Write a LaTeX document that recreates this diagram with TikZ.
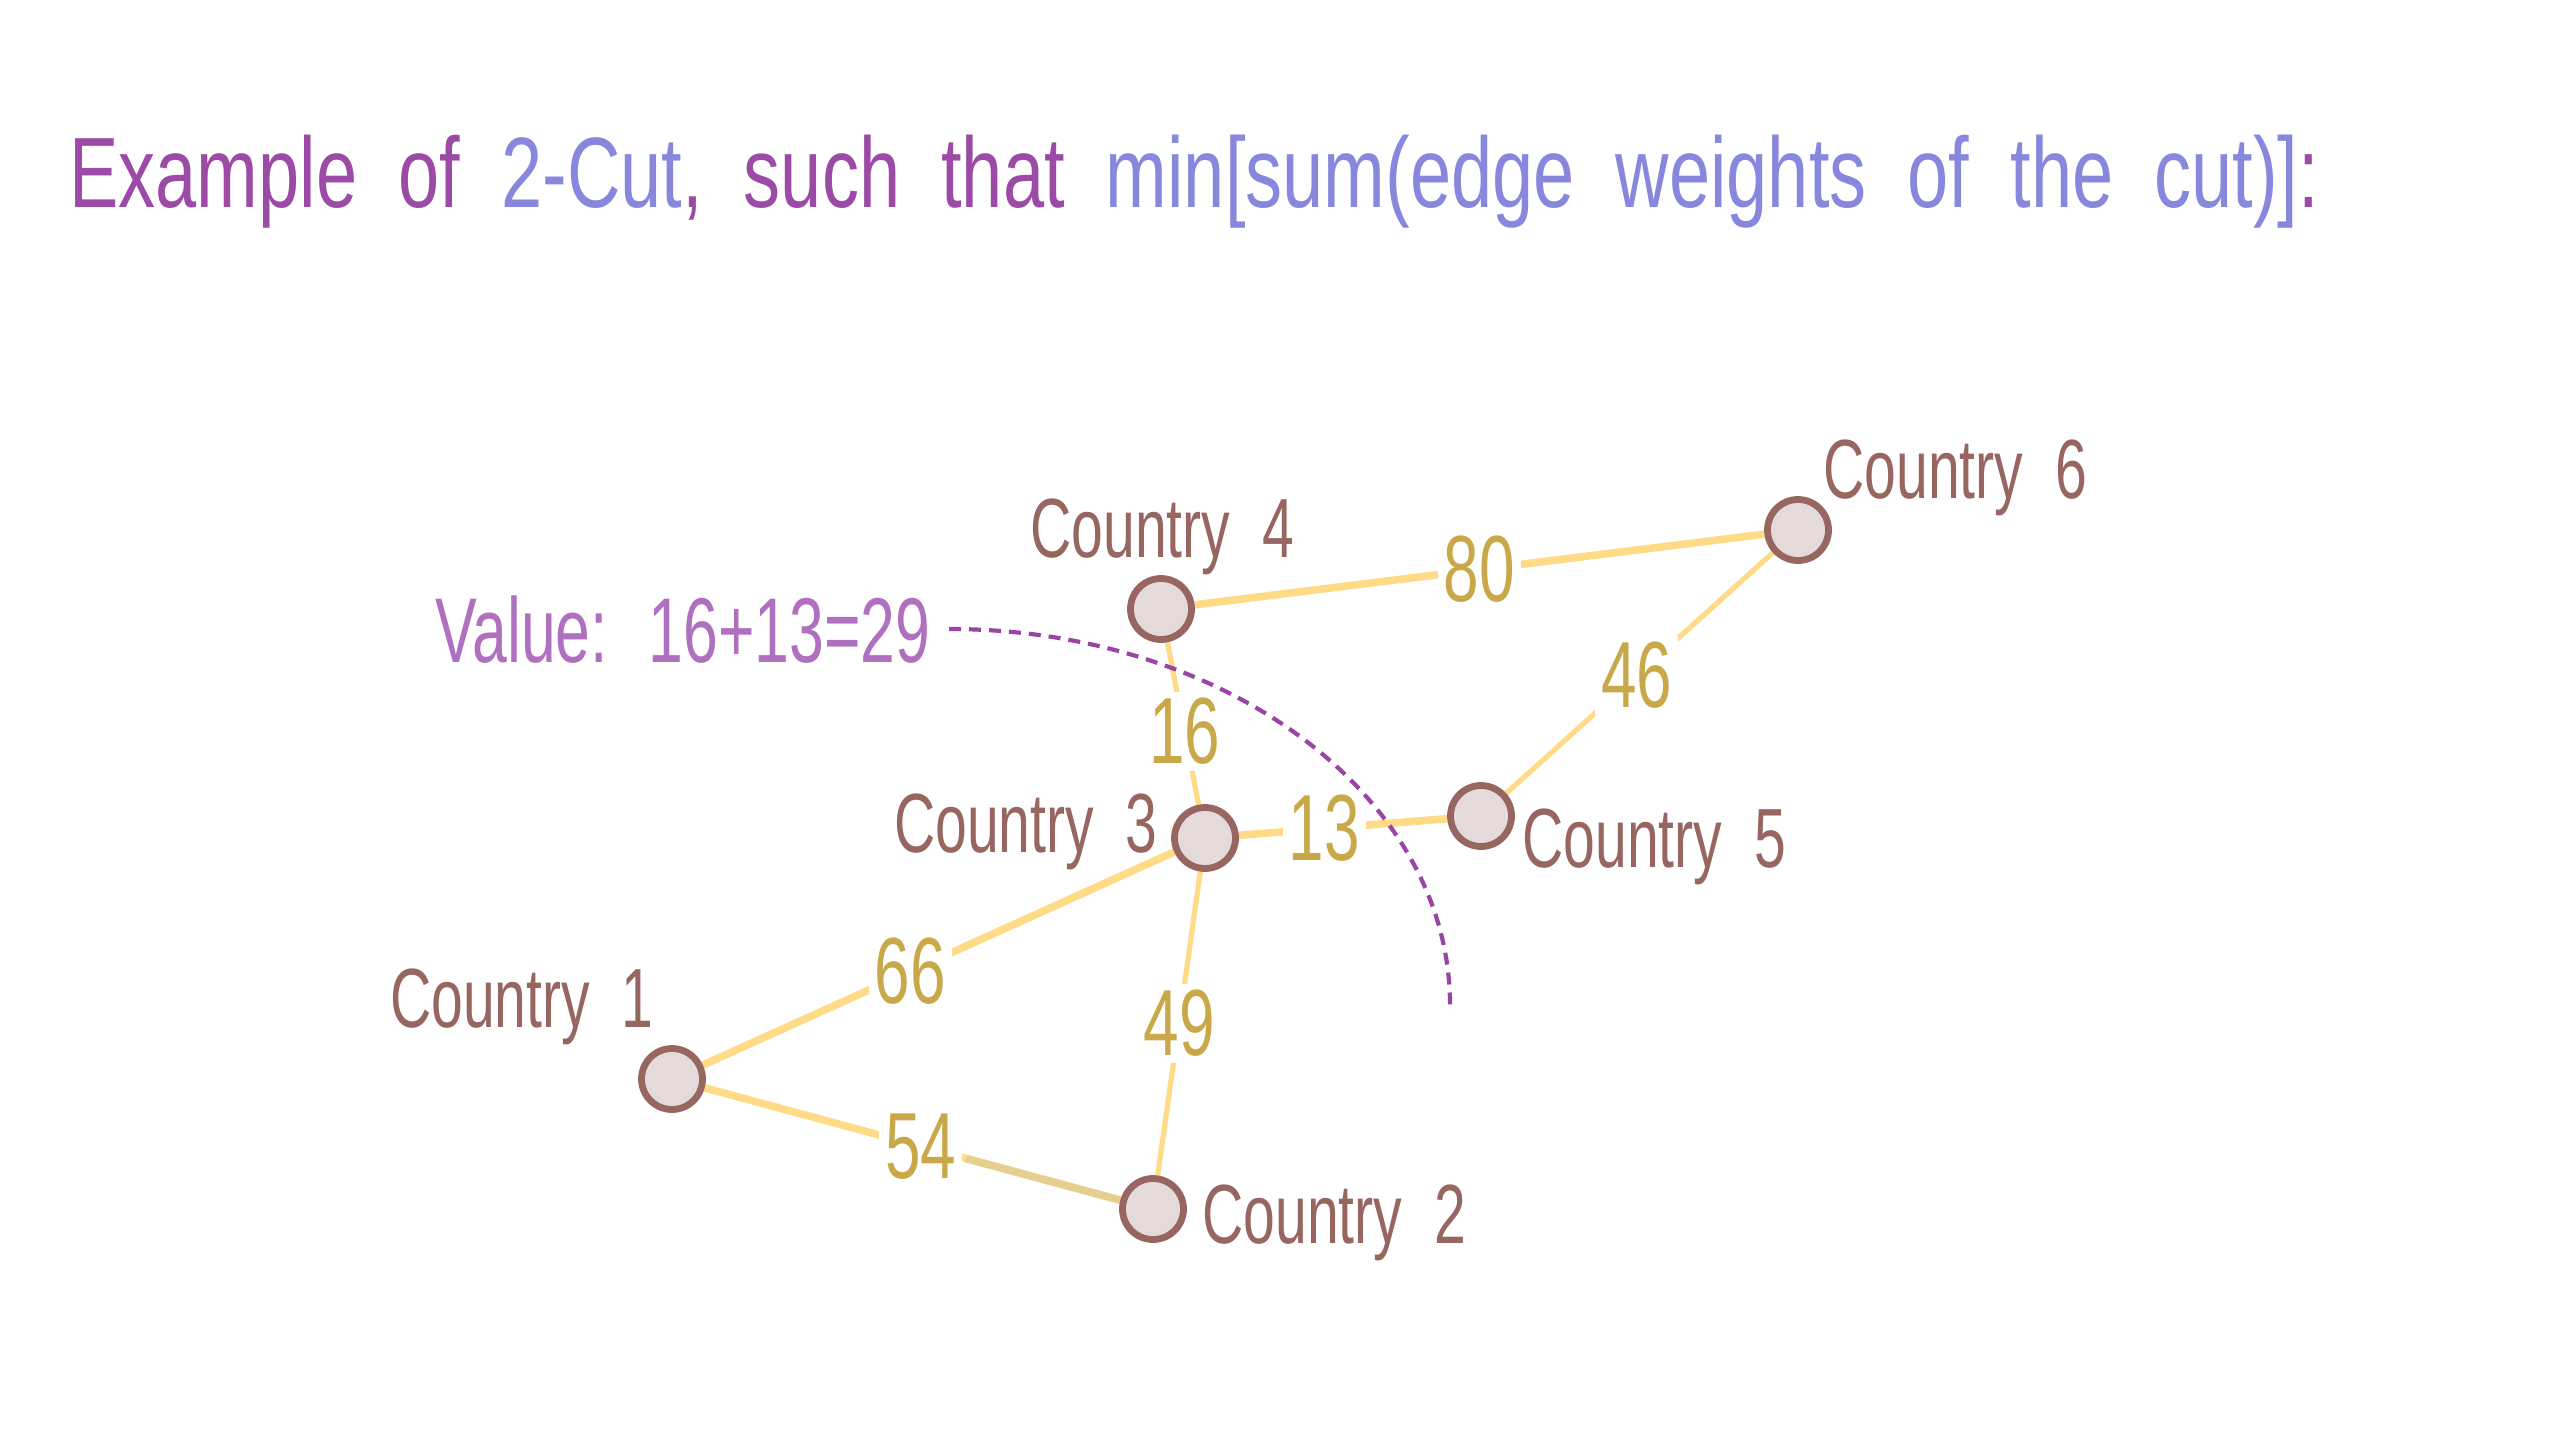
\documentclass[tikz,border=0pt]{standalone}
\usepackage{fontspec}
\usetikzlibrary{backgrounds}
\newfontfamily\hand{Liberation Sans}[FakeStretch=0.68,WordSpace=2]
\newfontfamily\handtitle{Liberation Sans}[FakeStretch=0.74,WordSpace=2]

\definecolor{titlepurple}{HTML}{9B4AA6}
\definecolor{titleblue}{HTML}{8787DD}
\definecolor{valuepurple}{HTML}{B070C0}
\definecolor{cutpurple}{HTML}{9A45A6}
\definecolor{countrybrown}{HTML}{976661}
\definecolor{countryfill}{HTML}{E4DADA}
\definecolor{roadyellow}{HTML}{FFDB87}
\definecolor{roadtan}{HTML}{E6CF8E}
\definecolor{weightgold}{HTML}{C9A84A}

\tikzset{
  country/.style={circle, draw=countrybrown, fill=countryfill, line width=3.4pt,
    minimum size=30.5pt, inner sep=0pt},
  countryname/.style={text=countrybrown, inner sep=0pt,
    font=\hand\fontsize{42}{42}\selectfont},
  road/.style={draw=roadyellow, line width=3.8pt},
  thinroad/.style={draw=roadyellow, line width=2.6pt},
  weight/.style={text=weightgold, fill=white, inner sep=3pt,
    font=\hand\fontsize{47}{47}\selectfont},
  cut/.style={draw=cutpurple, line width=2.1pt, dash pattern=on 6pt off 4pt},
}

\begin{document}
\begin{tikzpicture}[x=0.5pt,y=-0.5pt]
\useasboundingbox (0,0) rectangle (2575,1435);

% heading
\node[anchor=base west, inner sep=0pt, font=\handtitle\fontsize{50}{50}\selectfont] (title) at (69,207)
  {\textcolor{titlepurple}{Example of }\textcolor{titleblue}{2-Cut}\textcolor{titlepurple}{, such that }\textcolor{titleblue}{min[sum(edge weights of the cut)]}\textcolor{titlepurple}{:}};

% countries
\node[country] (c1) at (672,1079) {};
\node[country] (c2) at (1153,1209) {};
\node[country] (c3) at (1205,838) {};
\node[country] (c4) at (1161,609) {};
\node[country] (c5) at (1481,816) {};
\node[country] (c6) at (1798,530) {};

\node[countryname, anchor=base east] (n1) at (654,1027) {Country 1};
\node[countryname, anchor=base west] (n2) at (1202,1243) {Country 2};
\node[countryname, anchor=base east] (n3) at (1158,852) {Country 3};
\node[countryname, anchor=base west] (n4) at (1030,557) {Country 4};
\node[countryname, anchor=base west] (n5) at (1522,867) {Country 5};
\node[countryname, anchor=base west] (n6) at (1823,498) {Country 6};

% roads with weights
\begin{scope}[on background layer]
\fill[white] (0,0) rectangle (2575,1435);
\draw[road] (c4) -- node[weight, pos=.5] (w80) {80} (c6);
\draw[thinroad] (c5) -- node[weight, pos=.49] (w46) {46} (c6);
\draw[thinroad] (c4) -- node[weight, pos=.55] (w16) {16} (c3);
\draw[road] (c3) -- node[weight, pos=.41] (w13) {13} (c5);
\draw[road] (c1) -- node[weight, pos=.44] (w66) {66} (c3);
\draw[thinroad] (c3) -- node[weight, pos=.5] (w49) {49} (c2);
\draw[road] (c1) -- node[weight, pos=.52] (w54) {54} (c2);
\draw[road, draw=roadtan] (w54) -- (c2);
\end{scope}

% the cut
\node[anchor=base west, inner sep=0pt, text=valuepurple, font=\hand\fontsize{46}{46}\selectfont] (value) at (435,662) {Value: 16+13=29};
\coordinate (cutA) at (949,629);
\coordinate (cutB) at (1450,1005);
\draw[cut] (cutA) .. controls (1226,629) and (1450,797) .. (cutB);
\end{tikzpicture}
\end{document}
